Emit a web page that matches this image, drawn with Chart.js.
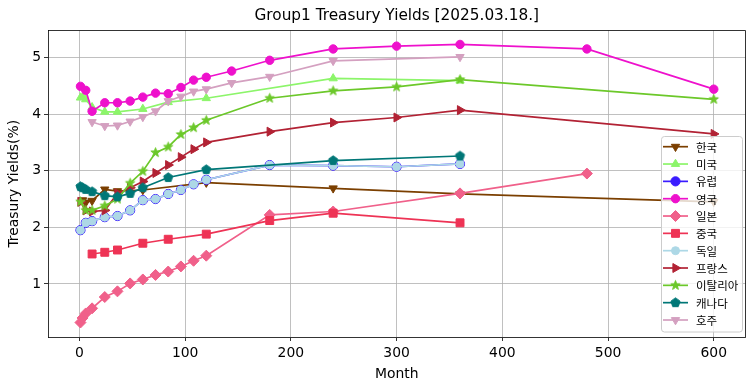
<!DOCTYPE html>
<html><head><meta charset="utf-8">
<script src="https://cdn.jsdelivr.net/npm/chart.js@4.4.1/dist/chart.umd.min.js"></script>
<style>html,body{margin:0;padding:0;background:#fff;}canvas{display:block;}</style>
</head><body>
<canvas id="c" width="755" height="391"></canvas>
<script>
// ---------------- data ----------------
const chartTitle = 'Group1 Treasury Yields [2025.03.18.]';
const xAxisTitle = 'Month';
const yAxisTitle = 'Treasury Yields(%)';
const xTicks = [0, 100, 200, 300, 400, 500, 600];
const yTicks = [1, 2, 3, 4, 5];
const seriesNames = ['한국','미국','유럽','영국','일본','중국','독일','프랑스','이탈리아','캐나다','호주'];

const krMonths = [3, 6, 12, 24, 36, 60, 120, 240, 360, 600];
const krYields = [2.48, 2.44, 2.47, 2.67, 2.64, 2.66, 2.79, 2.69, 2.59, 2.45];

const usMonths = [1, 3, 6, 12, 24, 36, 60, 84, 120, 240, 360];
const usYields = [4.29, 4.30, 4.26, 4.12, 4.04, 4.04, 4.09, 4.21, 4.28, 4.63, 4.59];

const euMonths = [1, 6, 12, 24, 36, 48, 60, 72, 84, 96, 108, 120, 180, 240, 300, 360];
const euYields = [1.95, 2.08, 2.11, 2.18, 2.20, 2.30, 2.48, 2.50, 2.59, 2.66, 2.76, 2.84, 3.10, 3.09, 3.07, 3.12];

const ukMonths = [1, 6, 12, 24, 36, 48, 60, 72, 84, 96, 108, 120, 144, 180, 240, 300, 360, 480, 600];
const ukYields = [4.49, 4.42, 4.05, 4.20, 4.20, 4.23, 4.30, 4.37, 4.36, 4.47, 4.60, 4.65, 4.76, 4.95, 5.15, 5.20, 5.23, 5.15, 4.44];

const jpMonths = [1, 3, 6, 12, 24, 36, 48, 60, 72, 84, 96, 108, 120, 180, 240, 360, 480];
const jpYields = [0.32, 0.40, 0.48, 0.57, 0.77, 0.87, 1.01, 1.08, 1.16, 1.22, 1.31, 1.41, 1.50, 2.22, 2.28, 2.60, 2.95];

const cnMonths = [12, 24, 36, 60, 84, 120, 180, 240, 360];
const cnYields = [1.53, 1.56, 1.60, 1.72, 1.79, 1.88, 2.12, 2.25, 2.08];

const deMonths = [1, 6, 12, 24, 36, 48, 60, 72, 84, 96, 108, 120, 180, 240, 300, 360];
const deYields = [1.95, 2.08, 2.11, 2.18, 2.20, 2.30, 2.48, 2.50, 2.59, 2.66, 2.76, 2.84, 3.10, 3.09, 3.07, 3.12];

const frMonths = [1, 6, 12, 24, 36, 48, 60, 72, 84, 96, 108, 120, 180, 240, 300, 360, 600];
const frYields = [2.45, 2.30, 2.28, 2.30, 2.60, 2.70, 2.81, 2.96, 3.10, 3.24, 3.38, 3.50, 3.69, 3.85, 3.94, 4.07, 3.65];

const itMonths = [1, 6, 12, 24, 36, 48, 60, 72, 84, 96, 108, 120, 180, 240, 300, 360, 600];
const itYields = [2.45, 2.30, 2.30, 2.38, 2.50, 2.78, 2.99, 3.32, 3.42, 3.64, 3.76, 3.89, 4.28, 4.41, 4.48, 4.61, 4.26];

const caMonths = [1, 3, 6, 12, 24, 36, 48, 60, 84, 120, 240, 360];
const caYields = [2.72, 2.70, 2.67, 2.63, 2.56, 2.54, 2.60, 2.70, 2.88, 3.02, 3.18, 3.26];

const auMonths = [12, 24, 36, 48, 60, 72, 84, 96, 108, 120, 144, 180, 240, 360];
const auYields = [3.86, 3.79, 3.80, 3.87, 3.95, 4.05, 4.23, 4.31, 4.40, 4.44, 4.55, 4.66, 4.94, 5.01];

const seriesMonths = [krMonths, usMonths, euMonths, ukMonths, jpMonths, cnMonths, deMonths, frMonths, itMonths, caMonths, auMonths];
const seriesYields = [krYields, usYields, euYields, ukYields, jpYields, cnYields, deYields, frYields, itYields, caYields, auYields];

// ---------------- styles ----------------
const colors = ['#7B3F00','#8CF56A','#3A1CFF','#EE11CC','#F0608A','#EE3355','#ADD8E6','#B22234','#6CC82A','#007777','#D4A0C0'];

function makeStar(color, R, rIn) {
  const s = Math.ceil(2 * R + 3), c = document.createElement('canvas');
  c.width = c.height = s;
  const g = c.getContext('2d');
  g.translate(s / 2, s / 2);
  g.beginPath();
  for (let k = 0; k < 10; k++) {
    const a = k * Math.PI / 5, rr = (k % 2) ? rIn : R;
    g.lineTo(Math.sin(a) * rr, -Math.cos(a) * rr);
  }
  g.closePath();
  g.fillStyle = color; g.fill();
  g.lineWidth = 1; g.strokeStyle = color; g.stroke();
  return c;
}
function makePoly(color, R, n) {
  const s = Math.ceil(2 * R + 3), c = document.createElement('canvas');
  c.width = c.height = s;
  const g = c.getContext('2d');
  g.translate(s / 2, s / 2);
  g.beginPath();
  for (let k = 0; k < n; k++) {
    const a = k * 2 * Math.PI / n;
    g.lineTo(Math.sin(a) * R, -Math.cos(a) * R);
  }
  g.closePath();
  g.fillStyle = color; g.fill();
  g.lineWidth = 1; g.strokeStyle = color; g.stroke();
  return c;
}

const pointStyles = ['triangle','triangle','circle','circle','rectRot','rect','circle','triangle',
  makeStar(colors[8], 4.9, 2.0), makePoly(colors[9], 4.8, 5), 'triangle'];
const pointRotations = [180, 0, 0, 0, 0, 0, 0, 90, 0, 0, 180];
const pointRadii = [4.8, 4.8, 4.6, 4.2, 5.5, 5.6, 4.0, 5.2, 5, 5, 4.8];

const datasets = seriesNames.map((name, i) => ({
  label: name,
  data: seriesMonths[i].map((m, j) => ({ x: m, y: seriesYields[i][j] })),
  borderColor: colors[i],
  backgroundColor: colors[i],
  pointBackgroundColor: colors[i],
  pointBorderColor: colors[i],
  pointBorderWidth: 1,
  pointRadius: pointRadii[i],
  pointStyle: pointStyles[i],
  pointRotation: pointRotations[i],
  borderWidth: 1.7,
  tension: 0,
  fill: false,
  order: -i
}));

function drawMarker(ctx, ds, x, y) {
  const st = ds.pointStyle, r = ds.pointRadius, rot = (ds.pointRotation || 0) * Math.PI / 180;
  ctx.save();
  ctx.translate(x, y);
  ctx.rotate(rot);
  if (st instanceof HTMLCanvasElement) {
    ctx.drawImage(st, -st.width / 2, -st.height / 2);
    ctx.restore();
    return;
  }
  ctx.beginPath();
  if (st === 'circle') ctx.arc(0, 0, r, 0, 2 * Math.PI);
  else if (st === 'triangle') {
    for (let k = 0; k < 3; k++) { const a = k * 2 * Math.PI / 3; ctx.lineTo(Math.sin(a) * r, -Math.cos(a) * r); }
    ctx.closePath();
  } else if (st === 'rectRot') {
    ctx.moveTo(-r, 0); ctx.lineTo(0, -r); ctx.lineTo(r, 0); ctx.lineTo(0, r); ctx.closePath();
  } else if (st === 'rect') {
    const s = r * Math.SQRT1_2; ctx.rect(-s, -s, 2 * s, 2 * s);
  }
  ctx.fillStyle = ds.pointBackgroundColor; ctx.fill();
  ctx.lineWidth = ds.pointBorderWidth; ctx.strokeStyle = ds.pointBorderColor; ctx.stroke();
  ctx.restore();
}

const deco = {
  id: 'deco',
  afterDatasetsDraw(chart) {
    const ctx = chart.ctx, a = chart.chartArea;
    // frame (top & right spines)
    ctx.save();
    ctx.strokeStyle = '#000'; ctx.lineWidth = 0.8;
    ctx.beginPath();
    ctx.moveTo(a.left, a.top); ctx.lineTo(a.right, a.top); ctx.lineTo(a.right, a.bottom);
    ctx.stroke();
    ctx.restore();
    // legend
    const lx = 661.5, ly = 136.5, lw = 81, lh = 195.5, row0 = 146.7, dy = 17.33;
    ctx.save();
    ctx.beginPath();
    ctx.roundRect(lx, ly, lw, lh, 3);
    ctx.fillStyle = 'rgba(255,255,255,0.8)'; ctx.fill();
    ctx.strokeStyle = '#cccccc'; ctx.lineWidth = 1; ctx.stroke();
    chart.data.datasets.forEach((ds, i) => {
      const y = row0 + dy * i;
      ctx.beginPath();
      ctx.moveTo(663, y); ctx.lineTo(688, y);
      ctx.strokeStyle = ds.borderColor; ctx.lineWidth = 1.7; ctx.stroke();
      drawMarker(ctx, ds, 675.5, y);
      ctx.fillStyle = '#000';
      ctx.font = "11.5px 'Noto Sans CJK KR', 'DejaVu Sans', sans-serif";
      ctx.textBaseline = 'middle'; ctx.textAlign = 'left';
      ctx.fillText(ds.label, 696, y + 0.5);
    });
    ctx.restore();
    // title
    ctx.save();
    ctx.fillStyle = '#000';
    ctx.font = "15.3px 'DejaVu Sans', sans-serif";
    ctx.textAlign = 'center'; ctx.textBaseline = 'middle';
    ctx.fillText(chartTitle, (a.left + a.right) / 2, 16.5);
    ctx.restore();
  }
};

Chart.defaults.font.family = "'DejaVu Sans', sans-serif";
Chart.defaults.color = '#000';
const tickFont = { size: 13.9, family: "'DejaVu Sans', sans-serif" };

new Chart(document.getElementById('c'), {
  type: 'line',
  data: { datasets },
  options: {
    responsive: false,
    animation: false,
    events: [],
    layout: { padding: { top: 30.5, right: 9.5, left: 0, bottom: 0 } },
    plugins: { legend: { display: false }, title: { display: false }, tooltip: { enabled: false } },
    scales: {
      x: {
        type: 'linear', min: -29.7, max: 630,
        afterBuildTicks: s => { s.ticks = xTicks.map(v => ({ value: v })); },
        afterFit: s => { s.height = 54; },
        ticks: { font: tickFont, color: '#000', padding: 4, maxRotation: 0, autoSkip: false, callback: v => String(v) },
        grid: { color: '#b0b0b0', lineWidth: 0.8, tickColor: '#000', tickLength: 4 },
        border: { color: '#000', width: 0.8 },
        title: { display: true, text: xAxisTitle, font: tickFont, color: '#000', padding: { top: 0, bottom: 8.5 } }
      },
      y: {
        type: 'linear', min: 0.064, max: 5.476,
        afterBuildTicks: s => { s.ticks = yTicks.map(v => ({ value: v })); },
        afterFit: s => { s.width = 48; },
        ticks: { font: tickFont, color: '#000', padding: 3, autoSkip: false, callback: v => String(v) },
        grid: { color: '#b0b0b0', lineWidth: 0.8, tickColor: '#000', tickLength: 4 },
        border: { color: '#000', width: 0.8 },
        title: { display: true, text: yAxisTitle, font: tickFont, color: '#000', padding: { top: 6.5, bottom: 0 } }
      }
    }
  },
  plugins: [deco]
});
</script>
</body></html>
